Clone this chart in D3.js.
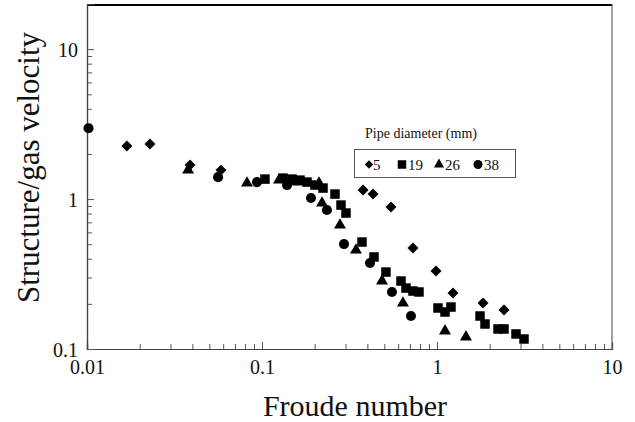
<!DOCTYPE html>
<html><head><meta charset="utf-8">
<script src="https://cdn.jsdelivr.net/npm/d3@7"></script>
<style>
html,body{margin:0;padding:0;background:#fff;}
svg{display:block;}
text{font-family:"Liberation Serif","Times New Roman",serif;fill:#111;}
</style></head>
<body>
<svg id="chart" width="635" height="422"></svg>
<script>
// ---- data ----
const seriesNames = ["5", "19", "26", "38"];
const d5x  = [0.0169,0.0229,0.0388,0.0583,0.378,0.431,0.546,0.729,0.987,1.234,1.832,2.415];
const d5y  = [2.26,2.33,1.685,1.56,1.148,1.08,0.884,0.471,0.331,0.236,0.2025,0.182];
const d19x = [0.104,0.1318,0.1484,0.1649,0.1808,0.2009,0.2232,0.2613,0.2828,0.302,0.3727,0.4365,0.511,0.6226,0.665,0.729,0.789,1.013,1.111,1.202,1.761,1.881,2.232,2.415,2.828,3.142];
const d19y = [1.359,1.38,1.359,1.338,1.298,1.24,1.184,1.08,0.912,0.807,0.517,0.411,0.326,0.284,0.255,0.2435,0.24,0.1877,0.1765,0.1905,0.166,0.1468,0.136,0.136,0.126,0.1166];
const d26x = [0.0378,0.0821,0.1251,0.1585,0.2117,0.2203,0.2791,0.3444,0.4851,0.639,1.111,1.464];
const d26y = [1.561,1.278,1.338,1.298,1.278,0.94,0.671,0.457,0.284,0.2025,0.1318,0.1202];
const d38x = [0.0102,0.0561,0.0936,0.139,0.1905,0.235,0.2942,0.414,0.553,0.71];
const d38y = [2.97,1.40,1.298,1.24,1.016,0.845,0.501,0.3745,0.24,0.166];
const xTickValues = [0.01, 0.1, 1, 10];
const xTickLabels = ["0.01", "0.1", "1", "10"];
const yTickValues = [0.1, 1, 10];
const yTickLabels = ["0.1", "1", "10"];
const xTitle = "Froude number";
const yTitle = "Structure/gas velocity";
const legendTitle = "Pipe diameter (mm)";

// ---- layout ----
const svg = d3.select("#chart");
const L = 87, R = 612, T = 4, B = 349;
const x = d3.scaleLog().domain([0.01, 10]).range([L, R]);
const y = d3.scaleLog().domain([0.1, 20]).range([B, T]);

// custom symbols
const diamond = {draw(c, s){ const r = Math.sqrt(s/2); c.moveTo(0,-r); c.lineTo(r,0); c.lineTo(0,r); c.lineTo(-r,0); c.closePath(); }};
const square = {draw(c, s){ const h = Math.sqrt(s)/2; c.rect(-h,-h,2*h,2*h); }};
const triangle = {draw(c, s){ const a = Math.sqrt(s*4/Math.sqrt(3)); const hgt = a*Math.sqrt(3)/2; c.moveTo(0,-hgt*2/3); c.lineTo(a/2,hgt/3); c.lineTo(-a/2,hgt/3); c.closePath(); }};
const circle = {draw(c, s){ const r = Math.sqrt(s/Math.PI); c.moveTo(r,0); c.arc(0,0,r,0,2*Math.PI); }};
const types = [diamond, square, triangle, circle];
const sizes = [60, 90, 62, 80];
const legSizes = [36, 72, 45, 64];

// frame
const g = svg.append("g");
g.append("line").attr("x1",L).attr("x2",R).attr("y1",T+1).attr("y2",T+1).attr("stroke","#000").attr("stroke-width",2);
g.append("line").attr("x1",R).attr("x2",R).attr("y1",T).attr("y2",B).attr("stroke","#444").attr("stroke-width",1);

// axes with inward ticks
const minorX = [];
for (let e=-2; e<1; e++) for (let k=1; k<10; k++) minorX.push(k*Math.pow(10,e));
minorX.push(10);
const minorY = [];
for (let e=-1; e<2; e++) for (let k=1; k<10; k++) { const v=k*Math.pow(10,e); if (v<=20) minorY.push(v); }
minorY.push(20);

const xAxisMinor = d3.axisBottom(x).tickValues(minorX.filter(v=>!xTickValues.includes(v))).tickSize(-5).tickFormat("");
const xAxisMajor = d3.axisBottom(x).tickValues(xTickValues).tickSize(-7).tickFormat((d,i)=>xTickLabels[i]);
const yAxisMinor = d3.axisLeft(y).tickValues(minorY.filter(v=>!yTickValues.includes(v))).tickSize(-5).tickFormat("");
const yAxisMajor = d3.axisLeft(y).tickValues(yTickValues).tickSize(-7).tickFormat((d,i)=>yTickLabels[i]);

function styleAxis(sel){
  sel.select(".domain").attr("stroke","#444").attr("stroke-width",1.2);
  sel.selectAll(".tick line").attr("stroke","#555").attr("stroke-width",1);
  sel.selectAll(".tick text").attr("fill","#111").style("font-family",'"Liberation Serif",serif').style("font-size","20px");
}
const gxm = svg.append("g").attr("transform",`translate(0,${B})`).call(xAxisMinor); styleAxis(gxm);
const gx = svg.append("g").attr("transform",`translate(0,${B})`).call(xAxisMajor); styleAxis(gx);
gx.selectAll(".tick text").attr("dy",null).attr("y",25);
const gym = svg.append("g").attr("transform",`translate(${L},0)`).call(yAxisMinor); styleAxis(gym);
const gy = svg.append("g").attr("transform",`translate(${L},0)`).call(yAxisMajor); styleAxis(gy);
gy.selectAll(".tick text").attr("x",-9).attr("dy",null).attr("y",7);

// titles
svg.append("text").attr("x",355).attr("y",416).attr("text-anchor","middle").style("font-size","30px").text(xTitle);
svg.append("text").attr("transform",`translate(39,${(T+B)/2-9}) rotate(-90)`).attr("text-anchor","middle").style("font-size","31px").text(yTitle);

// data points
const allSeries = [[d5x,d5y],[d19x,d19y],[d26x,d26y],[d38x,d38y]];
allSeries.forEach(([xs,ys],si)=>{
  const pts = xs.map((v,i)=>({x:v,y:ys[i]}));
  svg.append("g").selectAll("path").data(pts).join("path")
    .attr("transform",d=>`translate(${x(d.x)},${y(d.y)})`)
    .attr("d", d3.symbol().type(types[si]).size(sizes[si]))
    .attr("fill","#000");
});

// legend
svg.append("text").attr("x",365).attr("y",138).style("font-size","14px").text(legendTitle);
svg.append("rect").attr("x",354.5).attr("y",149.5).attr("width",161).attr("height",28).attr("fill","#fff").attr("stroke","#555").attr("stroke-width",1);
const legX = [369, 402, 439, 478];
const legT = [373, 408, 445, 484];
seriesNames.forEach((nm,i)=>{
  svg.append("path").attr("transform",`translate(${legX[i]},164.5)`).attr("d",d3.symbol().type(types[i]).size(legSizes[i])).attr("fill","#000");
  svg.append("text").attr("x",legT[i]).attr("y",170).style("font-size","15px").text(nm);
});
</script>
</body></html>
